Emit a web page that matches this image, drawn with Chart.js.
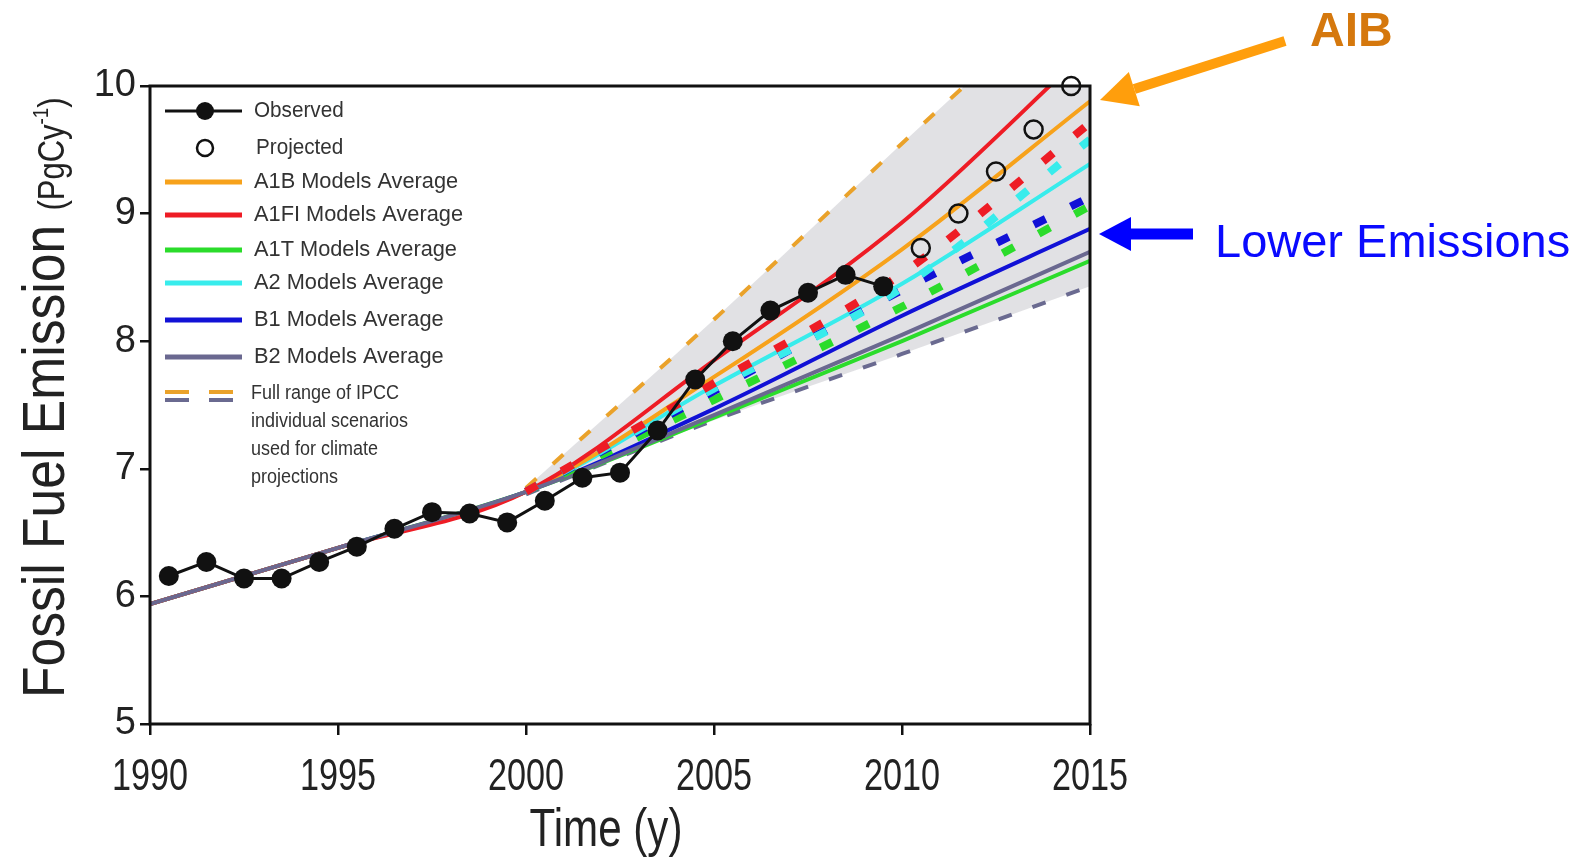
<!DOCTYPE html>
<html>
<head>
<meta charset="utf-8">
<script src="https://cdn.jsdelivr.net/npm/chart.js@4.4.1/dist/chart.umd.min.js"></script>
<style>
  html, body { margin: 0; background: #fff; }
  #wrap { width: 1585px; height: 862px; position: relative; }
</style>
</head>
<body>
<div id="wrap"><canvas id="chart"></canvas></div>
<script>
// observed and projected emissions (PgC/y), plotted mid-year
const obsYears = [1990.5, 1991.5, 1992.5, 1993.5, 1994.5, 1995.5, 1996.5, 1997.5, 1998.5, 1999.5,
                  2000.5, 2001.5, 2002.5, 2003.5, 2004.5, 2005.5, 2006.5, 2007.5, 2008.5, 2009.5];
const observed = [6.16, 6.27, 6.14, 6.14, 6.27, 6.39, 6.53, 6.66, 6.65, 6.58,
                  6.75, 6.93, 6.97, 7.30, 7.70, 8.00, 8.24, 8.38, 8.52, 8.43];
const projYears = [2010.5, 2011.5, 2012.5, 2013.5, 2014.5];
const projected = [8.73, 9.00, 9.33, 9.66, 10.0];

// scenario model averages (solid)
const modelYears = [1990, 1995, 2000, 2005, 2010, 2015];
const a1b  = [5.94, 6.38, 6.82, 7.72, 8.72, 9.88];
const a1fi = [5.94, 6.38, 6.82, 7.85, 8.93, 10.30];
const a1t  = [5.94, 6.38, 6.82, 7.40, 8.00, 8.63];
const a2   = [5.94, 6.38, 6.82, 7.65, 8.45, 9.39];
const b1   = [5.94, 6.38, 6.82, 7.47, 8.20, 8.88];
const b2   = [5.94, 6.38, 6.82, 7.42, 8.05, 8.70];

// dashed scenario lines and full IPCC range
const scenYears = [2000, 2005, 2010, 2015];
const redDash   = [6.82, 7.67, 8.53, 9.71];
const cyanDash  = [6.82, 7.63, 8.42, 9.58];
const blueDash  = [6.82, 7.61, 8.40, 9.13];
const greenDash = [6.82, 7.54, 8.27, 9.06];
const rangeHigh = [6.85, 8.17, 9.55, 10.90];
const rangeLow  = [6.80, 7.38, 7.90, 8.43];

const xTicks = [1990, 1995, 2000, 2005, 2010, 2015];

const pts = (xs, ys) => xs.map((x, i) => ({ x, y: ys[i] }));

const FONT = "'Liberation Sans', Arial, sans-serif";

const solid = (label, data, color) => ({
  label, data: pts(modelYears, data), borderColor: color, backgroundColor: color,
  borderWidth: 4, pointRadius: 0, cubicInterpolationMode: "monotone", fill: false,
});
const dashed = (label, data, color) => ({
  label, data: pts(scenYears, data), borderColor: color, backgroundColor: color,
  borderWidth: 8, borderDash: [13, 28], pointRadius: 0, cubicInterpolationMode: "monotone", fill: false,
});

// text squeezed horizontally, to mimic the condensed face of the original
function narrowText(ctx, text, x, y, sx) {
  ctx.save();
  ctx.translate(x, y);
  ctx.scale(sx, 1);
  ctx.fillText(text, 0, 0);
  ctx.restore();
}

const frame = {
  id: "frame",
  afterDatasetsDraw(chart) {
    const { ctx, chartArea: a } = chart;
    ctx.save();
    ctx.strokeStyle = "#111";
    ctx.lineWidth = 3;
    ctx.strokeRect(a.left, a.top, a.right - a.left, a.bottom - a.top);
    ctx.restore();
  },
};

const decorations = {
  id: "decorations",
  afterDraw(chart) {
    const { ctx, chartArea: a, scales } = chart;

    // x tick labels
    ctx.save();
    ctx.fillStyle = "#222";
    ctx.font = "45px " + FONT;
    ctx.textAlign = "center";
    ctx.textBaseline = "alphabetic";
    xTicks.forEach((v) => narrowText(ctx, String(v), scales.x.getPixelForValue(v), 790, 0.76));
    ctx.restore();

    // y title
    ctx.save();
    ctx.translate(64, 698);
    ctx.rotate(-Math.PI / 2);
    ctx.scale(0.86, 1);
    ctx.fillStyle = "#222";
    ctx.textBaseline = "alphabetic";
    ctx.font = "60px " + FONT;
    ctx.fillText("Fossil Fuel Emission", 0, 0);
    let x = ctx.measureText("Fossil Fuel Emission ").width;
    ctx.font = "36px " + FONT;
    ctx.fillText("(PgCy", x, 0);
    x += ctx.measureText("(PgCy").width;
    ctx.font = "22px " + FONT;
    ctx.fillText("-1", x, -16);
    x += ctx.measureText("-1").width;
    ctx.font = "36px " + FONT;
    ctx.fillText(")", x, 0);
    ctx.restore();

    // x title
    ctx.save();
    ctx.fillStyle = "#222";
    ctx.font = "54px " + FONT;
    ctx.textAlign = "center";
    ctx.textBaseline = "alphabetic";
    narrowText(ctx, "Time (y)", 606, 846, 0.78);
    ctx.restore();

    // legend
    ctx.save();
    const lx0 = 165, lx1 = 242, tx = 254;
    ctx.font = "22px " + FONT;
    ctx.fillStyle = "#333";
    ctx.textBaseline = "middle";
    ctx.strokeStyle = "#111";
    ctx.lineWidth = 3;
    ctx.beginPath(); ctx.moveTo(lx0, 111); ctx.lineTo(lx1, 111); ctx.stroke();
    ctx.fillStyle = "#111";
    ctx.beginPath(); ctx.arc(205, 111, 9, 0, Math.PI * 2); ctx.fill();
    ctx.fillStyle = "#333";
    narrowText(ctx, "Observed", tx, 111, 0.94);
    ctx.lineWidth = 2.5;
    ctx.beginPath(); ctx.arc(205, 148, 8, 0, Math.PI * 2); ctx.stroke();
    narrowText(ctx, "Projected", tx + 2, 148, 0.94);
    const rows = [
      ["A1B Models Average", "#f7a21b", 182],
      ["A1FI Models Average", "#ee1c25", 215],
      ["A1T Models Average", "#2bdc2b", 250],
      ["A2 Models Average", "#38ecec", 283],
      ["B1 Models Average", "#1111d6", 320],
      ["B2 Models Average", "#6a6890", 357],
    ];
    ctx.lineWidth = 5;
    rows.forEach(([t, c, y]) => {
      ctx.strokeStyle = c;
      ctx.beginPath(); ctx.moveTo(lx0, y); ctx.lineTo(lx1, y); ctx.stroke();
      narrowText(ctx, t, tx, y, 0.99);
    });
    ctx.lineWidth = 4;
    ctx.setLineDash([24, 20]);
    ctx.strokeStyle = "#eaa22a";
    ctx.beginPath(); ctx.moveTo(lx0, 392); ctx.lineTo(lx1, 392); ctx.stroke();
    ctx.strokeStyle = "#6a6a90";
    ctx.beginPath(); ctx.moveTo(lx0, 400); ctx.lineTo(lx1, 400); ctx.stroke();
    ctx.setLineDash([]);
    ctx.font = "20px " + FONT;
    ["Full range of IPCC", "individual scenarios", "used for climate", "projections"]
      .forEach((t, i) => narrowText(ctx, t, tx - 3, 393 + i * 28, 0.9));
    ctx.restore();

    // annotations
    const arrow = (x0, y0, x1, y1, w, hl, hw, color) => {
      const ang = Math.atan2(y1 - y0, x1 - x0);
      const bx = x1 - hl * Math.cos(ang), by = y1 - hl * Math.sin(ang);
      ctx.strokeStyle = color; ctx.fillStyle = color; ctx.lineWidth = w;
      ctx.beginPath(); ctx.moveTo(x0, y0); ctx.lineTo(bx, by); ctx.stroke();
      ctx.beginPath();
      ctx.moveTo(x1, y1);
      ctx.lineTo(bx + hw * Math.sin(ang), by - hw * Math.cos(ang));
      ctx.lineTo(bx - hw * Math.sin(ang), by + hw * Math.cos(ang));
      ctx.closePath(); ctx.fill();
    };
    ctx.save();
    arrow(1285, 41, a.right + 10, 100, 10, 36, 18, "#ff9e0c");
    arrow(1193, 234, a.right + 9, 234, 11, 32, 17, "#0000ff");
    ctx.font = "bold 48px " + FONT;
    ctx.fillStyle = "#d5780d";
    ctx.textBaseline = "alphabetic";
    ctx.fillText("AIB", 1310, 46);
    ctx.font = "47px " + FONT;
    ctx.fillStyle = "#0a0aff";
    ctx.fillText("Lower Emissions", 1215, 257);
    ctx.restore();
  },
};

new Chart(document.getElementById("chart"), {
  type: "line",
  data: {
    datasets: [
      {
        label: "Observed", data: pts(obsYears, observed),
        borderColor: "#111", backgroundColor: "#111", borderWidth: 3,
        pointRadius: 10, pointBackgroundColor: "#111", pointBorderWidth: 0, fill: false,
      },
      {
        label: "Projected", data: pts(projYears, projected), showLine: false,
        borderColor: "#111", pointRadius: 9, pointBorderWidth: 2.5,
        pointBackgroundColor: "rgba(0,0,0,0)", clip: false, fill: false,
      },
      dashed("A1FI dashed", redDash, "#ee1c25"),
      dashed("A2 dashed", cyanDash, "#38ecec"),
      dashed("B1 dashed", blueDash, "#1111d6"),
      dashed("A1T dashed", greenDash, "#2bdc2b"),
      solid("B2 Models Average", b2, "#6a6890"),
      solid("A1FI Models Average", a1fi, "#ee1c25"),
      solid("A1B Models Average", a1b, "#f7a21b"),
      solid("A2 Models Average", a2, "#38ecec"),
      solid("B1 Models Average", b1, "#1111d6"),
      solid("A1T Models Average", a1t, "#2bdc2b"),
      {
        label: "Range low", data: pts(scenYears, rangeLow), borderColor: "#6a6a90",
        borderWidth: 4, borderDash: [14, 22], pointRadius: 0, cubicInterpolationMode: "monotone", fill: false,
      },
      {
        label: "Range high", data: pts(scenYears, rangeHigh), borderColor: "#eaa22a",
        backgroundColor: "rgba(200,200,206,0.55)",
        borderWidth: 4, borderDash: [14, 22], pointRadius: 0, cubicInterpolationMode: "monotone",
        fill: "-1",
      },
    ],
  },
  options: {
    responsive: true,
    maintainAspectRatio: false,
    animation: false,
    layout: { padding: { top: 86, right: 495, left: 0, bottom: 0 } },
    plugins: { legend: { display: false }, tooltip: { enabled: false } },
    scales: {
      x: {
        type: "linear", min: 1990, max: 2015,
        afterBuildTicks: (axis) => { axis.ticks = xTicks.map((v) => ({ value: v })); },
        afterFit: (axis) => { axis.height = 138; },
        ticks: { display: false },
        grid: { drawOnChartArea: false, drawTicks: true, tickLength: 11, color: "#111", lineWidth: 2.5 },
        border: { display: false },
      },
      y: {
        type: "linear", min: 5, max: 10,
        afterFit: (axis) => { axis.width = 150; },
        ticks: {
          stepSize: 1, callback: (v) => String(v), color: "#222", padding: 4,
          font: { family: FONT, size: 38 },
        },
        grid: { drawOnChartArea: false, drawTicks: true, tickLength: 10, color: "#111", lineWidth: 2.5 },
        border: { display: false },
      },
    },
  },
  plugins: [frame, decorations],
});
</script>
</body>
</html>
